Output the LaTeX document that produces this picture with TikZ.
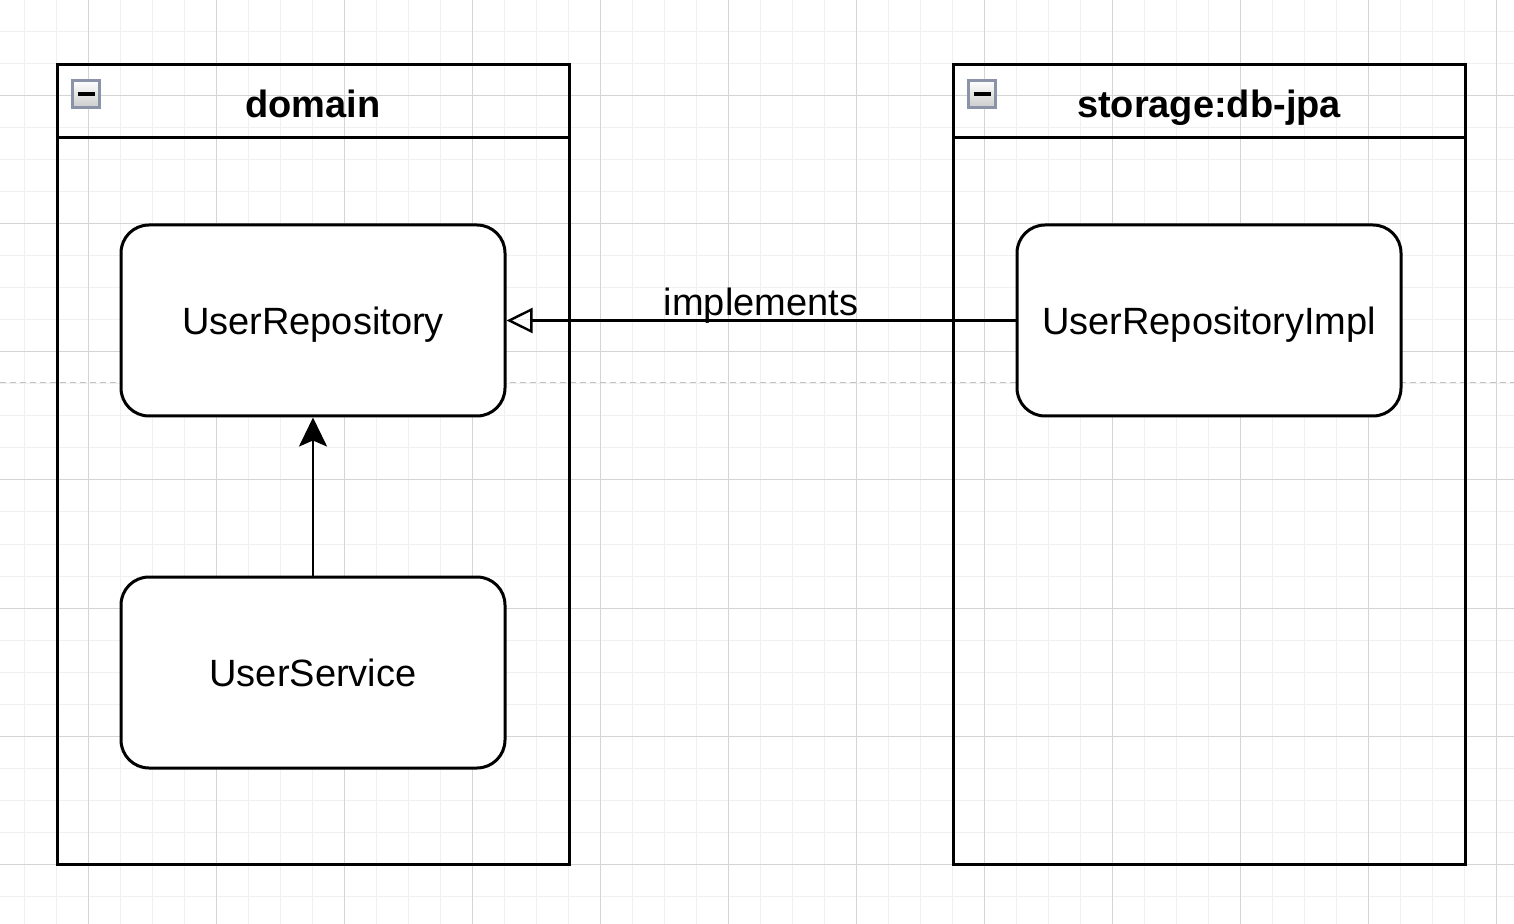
\documentclass[tikz,border=0pt]{standalone}
\usepackage{fontspec}
\setmainfont{Liberation Sans}
\usetikzlibrary{arrows.meta, positioning}

\definecolor{gridminor}{HTML}{F0F0F0}
\definecolor{gridmajor}{HTML}{D4D4D4}
\definecolor{pagebreak}{HTML}{C2C2C2}
\definecolor{iconborder}{HTML}{8A93A8}

\tikzset{
  package/.style={draw, line width=1.5pt, anchor=north west, minimum width=256pt, minimum height=399.5pt, inner sep=0pt, outer sep=0pt},
  pkgtitle/.style={anchor=base, font=\fontsize{19pt}{23pt}\selectfont\bfseries},
  classbox/.style={draw, line width=1.5pt, rounded corners=14pt, fill=white, minimum width=192pt, minimum height=95.5pt, text height=14pt, text depth=0pt, font=\fontsize{19pt}{23pt}\selectfont},
  collapse/.style={draw=iconborder, line width=1.5pt, top color=white, bottom color=gray!40, minimum size=13.5pt, inner sep=0pt},
  link/.style={line width=1.2pt},
}

\begin{document}
\begin{tikzpicture}[x=0.5pt, y=-0.5pt]
  \useasboundingbox (0,0) rectangle (1514,924);

  % grid
  \foreach \x in {24,56,...,1496}
    \draw[gridminor, line width=0.5pt] (\x,0) -- (\x,924);
  \foreach \y in {0,32,...,920}
    \draw[gridminor, line width=0.5pt] (0,\y) -- (1514,\y);
  \foreach \x in {88,216,...,1496}
    \draw[gridmajor, line width=0.5pt] (\x,0) -- (\x,924);
  \foreach \y in {96,224,...,920}
    \draw[gridmajor, line width=0.5pt] (0,\y) -- (1514,\y);
  \draw[pagebreak, line width=0.5pt, dash pattern=on 3pt off 2pt] (0,383) -- (1514,383);

  % packages
  \node[package] (domain) at (57,65) {};
  \draw[line width=1.5pt] (57,138) -- (569,138);
  \node[pkgtitle] (domaintitle) at (313,118) {domain};
  \node[collapse] (domainicon) at (86,94) {\rule{8.5pt}{2pt}};

  \node[package] (storage) at (953,65) {};
  \draw[line width=1.5pt] (953,138) -- (1465,138);
  \node[pkgtitle] (storagetitle) at (1209,118) {storage:db-jpa};
  \node[collapse] (storageicon) at (982,94) {\rule{8.5pt}{2pt}};

  % classes
  \node[classbox] (repo) at (313,320.5) {UserRepository};
  \node[classbox] (service) at (313,672.5) {UserService};
  \node[classbox] (repoimpl) at (1209,320.5) {UserRepositoryImpl};

  \draw[link, -{Triangle[open, length=13pt, width=12.5pt]}] (repoimpl) -- node[anchor=base, yshift=2.5pt, font=\fontsize{19pt}{23pt}\selectfont] (impl) {implements} (repo);
  \draw[link, -{Stealth[length=14.5pt, width=14pt, inset=3pt]}] (service) -- (repo);
\end{tikzpicture}
\end{document}
